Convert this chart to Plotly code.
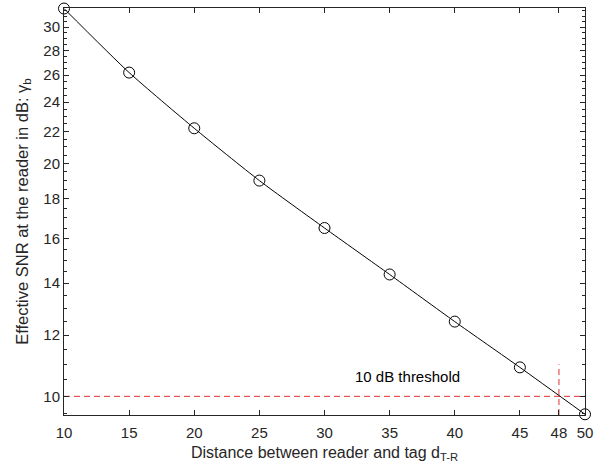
import plotly.graph_objects as go
import numpy as np

distance = [10, 15, 20, 25, 30, 35, 40, 45, 50]
snr_db = [31.7, 26.2, 22.2, 19.0, 16.5, 14.37, 12.49, 10.9, 9.48]
x_ticks = [10, 15, 20, 25, 30, 35, 40, 45, 48, 50]
y_ticks = [10, 12, 14, 16, 18, 20, 22, 24, 26, 28, 30]
threshold_db = 10
threshold_dist = 48
threshold_top = 11.0
y_minor = [v / 2 for v in range(19, 64)]

axcol = "#262626"
font = "Liberation Sans, Arial, sans-serif"
y_lo, y_hi = 9.46, 31.75

fig = go.Figure()
fig.add_trace(go.Scatter(x=[10, 50], y=[threshold_db, threshold_db], mode="lines",
                         line=dict(color="#e03030", width=1, dash="6px,4px"), showlegend=False))
fig.add_trace(go.Scatter(x=[threshold_dist, threshold_dist], y=[y_lo, threshold_top], mode="lines",
                         line=dict(color="#e03030", width=1, dash="6px,4px"), showlegend=False))
fig.add_trace(go.Scatter(x=distance, y=snr_db, mode="lines+markers",
                         line=dict(color="black", width=1, shape="spline", smoothing=0.6),
                         marker=dict(symbol="circle-open", size=11, color="black", line=dict(width=1)),
                         showlegend=False, cliponaxis=False))
fig.add_annotation(x=36.4, y=np.log10(10.6), text="10 dB threshold", showarrow=False,
                   font=dict(size=15, color="black", family=font))

fig.update_layout(
    width=595, height=476,
    margin=dict(l=64, r=10, t=8, b=61),
    plot_bgcolor="white", paper_bgcolor="white",
    font=dict(family=font, size=15, color=axcol),
)
fig.update_xaxes(range=[10, 50], tickvals=x_ticks, ticks="inside", ticklen=5, tickcolor=axcol,
                 showline=True, linecolor=axcol, linewidth=1, mirror="allticks", showgrid=False,
                 zeroline=False, automargin=False, ticklabelstandoff=4,
                 title=dict(text="Distance between reader and tag d<sub>T-R</sub>", font=dict(size=16), standoff=6))
fig.update_yaxes(type="log", range=[np.log10(y_lo), np.log10(y_hi)], tickvals=y_ticks, ticks="inside",
                 ticklen=5, tickcolor=axcol, showline=True, linecolor=axcol, linewidth=1,
                 mirror="allticks", showgrid=False, zeroline=False, automargin=False,
                 minor=dict(tickvals=y_minor, ticks="inside", ticklen=3, tickcolor=axcol, showgrid=False),
                 title=dict(text="Effective SNR at the reader in dB: γ<sub>b</sub>", font=dict(size=16.5), standoff=10))

fig.write_html("out.html")
